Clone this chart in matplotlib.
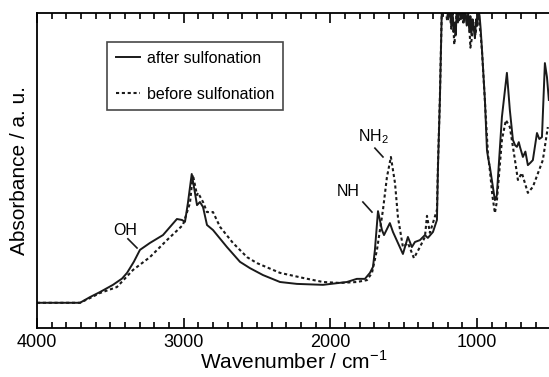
import numpy as np
import matplotlib
matplotlib.use("Agg")
import matplotlib.pyplot as plt
from matplotlib.ticker import MultipleLocator

plt.rcParams['font.family'] = ['Liberation Sans', 'DejaVu Sans']
plt.rcParams['mathtext.fontset'] = 'custom'
plt.rcParams['mathtext.rm'] = 'Liberation Sans'

# after sulfonation (solid)
after_wn = [4000, 3707, 3639, 3571, 3482, 3420, 3386, 3340, 3298, 3230, 3141, 3046, 3012, 2991,
            2971, 2945, 2923, 2909, 2889, 2868, 2841, 2800, 2705, 2616, 2548, 2459,
            2343, 2228, 2050, 1887, 1819, 1764, 1730, 1709, 1696, 1675, 1648, 1634,
            1594, 1573, 1505, 1471, 1444, 1423, 1389, 1355, 1335, 1300, 1273, 1266,
            1253, 1239, 1232, 1225, 1215, 1205, 1195, 1185, 1175, 1168, 1160, 1152,
            1145, 1138, 1130, 1120, 1110, 1100, 1090, 1080, 1070, 1060, 1052, 1045,
            1038, 1030, 1022, 1014, 1006, 998, 990, 982, 975, 966, 946, 932, 925,
            912, 878, 865, 830, 796, 776, 755, 740, 728, 715, 707, 687, 670, 653,
            635, 619, 591, 575, 557, 537, 523, 510]
after_abs = [0.080, 0.080, 0.098, 0.114, 0.137, 0.157, 0.175, 0.210, 0.248, 0.270, 0.295, 0.346, 0.343, 0.337,
             0.397, 0.489, 0.429, 0.390, 0.400, 0.384, 0.327, 0.311, 0.257, 0.210, 0.190, 0.168,
             0.146, 0.140, 0.137, 0.146, 0.156, 0.156, 0.175, 0.194, 0.248, 0.371, 0.311, 0.295,
             0.333, 0.305, 0.235, 0.289, 0.257, 0.273, 0.279, 0.295, 0.286, 0.305, 0.343, 0.511,
             0.724, 1.03, 0.99, 1.06, 1.00, 1.04, 0.98, 1.03, 0.96, 1.02, 0.94, 0.97,
             0.93, 1.01, 0.97, 1.03, 0.98, 1.02, 0.97, 1.01, 0.96, 1.00, 0.94, 0.99,
             0.93, 0.98, 0.95, 0.92, 0.98, 0.96, 1.01, 0.99, 0.95, 0.883, 0.724, 0.565, 0.543,
             0.511, 0.406, 0.420, 0.670, 0.810, 0.692, 0.597, 0.580, 0.575, 0.590, 0.575, 0.543, 0.560, 0.517,
             0.525, 0.533, 0.619, 0.600, 0.606, 0.841, 0.797, 0.724]

# before sulfonation (dotted)
before_wn = [4000, 3707, 3639, 3571, 3455, 3346, 3230, 3114, 3005, 2957, 2937, 2909,
             2902, 2868, 2841, 2800, 2752, 2664, 2568, 2500, 2343, 2187, 2050, 1934,
             1819, 1750, 1716, 1682, 1641, 1614, 1587, 1559, 1539, 1505, 1471, 1430,
             1389, 1355, 1341, 1321, 1273, 1266, 1253, 1239, 1230, 1220, 1205, 1190,
             1175, 1165, 1155, 1148, 1140, 1125, 1110, 1095, 1080, 1065, 1055, 1045,
             1035, 1025, 1010, 995, 985, 975, 966, 946, 925, 912, 895, 878, 865, 830,
             803, 776, 741, 721, 694, 653, 619, 551, 517]
before_abs = [0.080, 0.080, 0.095, 0.111, 0.130, 0.184, 0.225, 0.279, 0.327, 0.397, 0.486, 0.422,
              0.429, 0.400, 0.368, 0.368, 0.321, 0.270, 0.225, 0.206, 0.175, 0.159, 0.146, 0.143,
              0.146, 0.152, 0.175, 0.248, 0.375, 0.479, 0.543, 0.460, 0.352, 0.257, 0.270, 0.222,
              0.257, 0.289, 0.356, 0.302, 0.375, 0.520, 0.730, 1.03, 1.00, 1.05, 0.98, 1.02,
              0.95, 1.00, 0.90, 0.93, 1.00, 0.97, 1.02, 0.97, 1.00, 0.96, 0.99, 0.89,
              0.92, 0.97, 0.93, 1.00, 0.97, 0.93, 0.88, 0.72, 0.55, 0.50, 0.42, 0.365, 0.40, 0.597,
              0.660, 0.638, 0.533, 0.470, 0.492, 0.429, 0.448, 0.533, 0.638]

fig = plt.figure(figsize=(5.49, 3.77), dpi=100)
ax = fig.add_axes([0.0674, 0.130, 0.935, 0.8355])

ax.plot(after_wn, after_abs, color='#1a1a1a', lw=1.4, label='after sulfonation')
ax.plot(before_wn, before_abs, color='#1a1a1a', lw=1.5, ls=(0, (1.5, 1.3)),
        label='before sulfonation')

ax.set_xlim(4000, 500)
ax.set_ylim(0, 1)
ax.xaxis.set_major_locator(MultipleLocator(1000))
ax.xaxis.set_minor_locator(MultipleLocator(100))
ax.tick_params(axis='x', which='both', direction='in', top=True, labelsize=13, pad=4)
ax.tick_params(axis='x', which='major', length=7, width=1.2)
ax.tick_params(axis='x', which='minor', length=4, width=1.2)
ax.set_yticks([])
for s in ax.spines.values():
    s.set_linewidth(1.3)

ax.set_xlabel('Wavenumber / cm$^{\\mathregular{-1}}$', fontsize=15, labelpad=0)
ax.set_ylabel('Absorbance / a. u.', fontsize=15, labelpad=6)

# peak labels
ax.text(3400, 0.311, 'OH', fontsize=11.5, ha='center', va='center')
ax.plot([3380, 3318], [0.283, 0.254], color='#1a1a1a', lw=1.2)
ax.text(1880, 0.432, 'NH', fontsize=11.5, ha='center', va='center')
ax.plot([1778, 1716], [0.400, 0.368], color='#1a1a1a', lw=1.2)
ax.text(1709, 0.606, 'NH$_\\mathregular{2}$', fontsize=11.5, ha='center', va='center')
ax.plot([1696, 1641], [0.571, 0.543], color='#1a1a1a', lw=1.2)

leg = ax.legend(loc='upper left', bbox_to_anchor=(0.136, 0.908), borderaxespad=0,
                fontsize=11.5, frameon=True, fancybox=False, edgecolor='#1a1a1a',
                handlelength=1.5, handletextpad=0.45, borderpad=0.55, labelspacing=1.3)
leg.get_frame().set_linewidth(1.2)

fig.savefig('out.png', dpi=100)
